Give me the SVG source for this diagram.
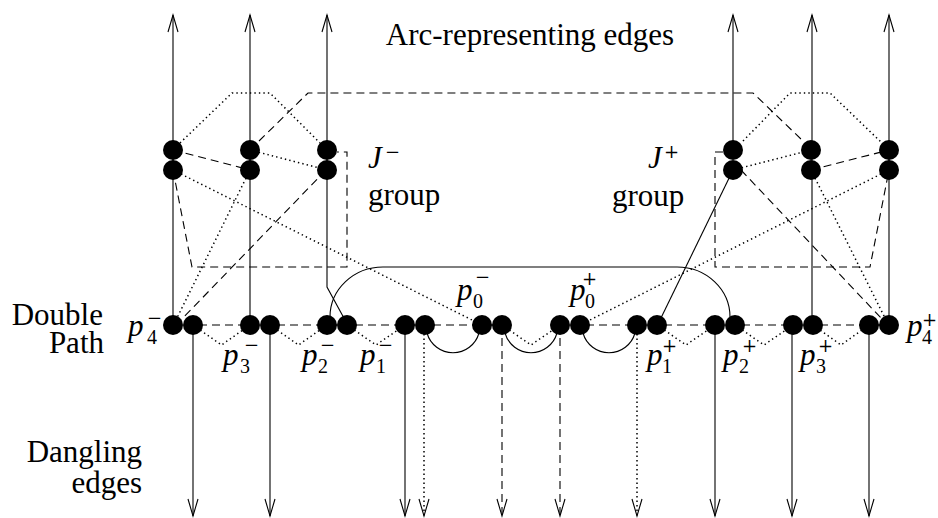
<svg xmlns="http://www.w3.org/2000/svg" width="938" height="518" viewBox="0 0 938 518">
<style>
 .s{fill:none;stroke:#000;stroke-width:1.1}
 .d{fill:none;stroke:#000;stroke-width:1.1;stroke-dasharray:8 5}
 .o{fill:none;stroke:#000;stroke-width:1.5;stroke-dasharray:1.4 3.1}
 .n circle{fill:#000;stroke:none}
 text{font-family:"Liberation Serif","Times New Roman",serif;fill:#000}
 .lbl{font-size:31px}
 .m{font-size:31px;font-style:italic}
 .sc{font-size:20px;font-style:normal}
 .sg{font-family:"DejaVu Serif",serif;font-size:18px;font-style:normal}
</style>
<defs>
 <marker id="ah" markerUnits="userSpaceOnUse" markerWidth="20" markerHeight="12" refX="17" refY="5" orient="auto" overflow="visible">
  <path d="M0,0 L17,5 L0,10" fill="none" stroke="#000" stroke-width="1.1"/>
 </marker>
</defs>
<g id="connectors">
 <!-- arc-representing edges (up) -->
 <path class="s" d="M173,325 V15" marker-end="url(#ah)"/>
 <path class="s" d="M250,325 V15" marker-end="url(#ah)"/>
 <path class="s" d="M345,320 L327,287 V15" marker-end="url(#ah)"/>
 <path class="s" d="M733,150 V15" marker-end="url(#ah)"/>
 <path class="s" d="M733,170 L660,320"/>
 <path class="s" d="M812,325 V15" marker-end="url(#ah)"/>
 <path class="s" d="M889,325 V15" marker-end="url(#ah)"/>
 <!-- dangling edges (down) -->
 <path class="s" d="M193,325 V516" marker-end="url(#ah)"/>
 <path class="s" d="M270,325 V516" marker-end="url(#ah)"/>
 <path class="s" d="M405,325 V516" marker-end="url(#ah)"/>
 <path class="o" d="M424,325 V516" marker-end="url(#ah)"/>
 <path class="d" d="M502,325 V516" marker-end="url(#ah)"/>
 <path class="d" d="M560,325 V516" marker-end="url(#ah)"/>
 <path class="o" d="M637,325 V516" marker-end="url(#ah)"/>
 <path class="s" d="M715,325 V516" marker-end="url(#ah)"/>
 <path class="s" d="M792,325 V516" marker-end="url(#ah)"/>
 <path class="s" d="M869,325 V516" marker-end="url(#ah)"/>
 <!-- top trapezoids -->
 <path class="o" d="M180,143 L232,93 L270,93 L320,143"/>
 <path class="d" d="M259,141 L308,93 L753,93 L803,141"/>
 <path class="o" d="M743,141 L790,93 L830,93 L882,143"/>
 <!-- J- group internals -->
 <path class="d" d="M173,150 L250,170"/>
 <path class="o" d="M250,150 L327,170"/>
 <path class="o" d="M173,170 L482,325"/>
 <path class="d" d="M173,170 L192,267 L347,267 L347,152 L337,152"/>
 <path class="o" d="M250,170 L175,322"/>
 <path class="d" d="M326,170 L180,321"/>
 <!-- J+ group internals -->
 <path class="o" d="M733,170 L811,150"/>
 <path class="d" d="M811,170 L889,150"/>
 <path class="d" d="M723,152 L715,152 L715,267 L870,267 L889,170"/>
 <path class="o" d="M889,170 L580,325"/>
 <path class="d" d="M741,170 L881,318"/>
 <path class="o" d="M811,170 L886,320"/>
 <!-- double path -->
 <path class="d" d="M173,325 H502 M560,325 H889"/>
 <path class="o" d="M193,325 L221.5,345 L250,325 M270,325 L298.5,345 L327,325 M347,325 L376,345 L405,325 M502,325 L531,345 L560,325 M657,325 L686,345 L715,325 M735,325 L764,345 L793,325 M813,325 L841,345 L869,325"/>
 <path class="s" d="M427,333 A27,27 0 0 0 479,333 M505,333 A27,27 0 0 0 557,333 M583,333 A27,27 0 0 0 635,333"/>
 <path class="s" d="M330,317 A53,50 0 0 1 383,267 H677 A53,50 0 0 1 730,317"/>
</g>
<g id="J-minus-1" class="n"><circle cx="173" cy="150" r="10"/><circle cx="173" cy="170" r="10"/></g>
<g id="J-minus-2" class="n"><circle cx="250" cy="150" r="10"/><circle cx="250" cy="170" r="10"/></g>
<g id="J-minus-3" class="n"><circle cx="327" cy="150" r="10"/><circle cx="327" cy="170" r="10"/></g>
<g id="J-plus-1" class="n"><circle cx="733" cy="150" r="10"/><circle cx="733" cy="170" r="10"/></g>
<g id="J-plus-2" class="n"><circle cx="811" cy="150" r="10"/><circle cx="811" cy="170" r="10"/></g>
<g id="J-plus-3" class="n"><circle cx="889" cy="150" r="10"/><circle cx="889" cy="170" r="10"/></g>
<g id="p4m" class="n"><circle cx="173" cy="325" r="10"/><circle cx="193" cy="325" r="10"/></g>
<g id="p3m" class="n"><circle cx="250" cy="325" r="10"/><circle cx="270" cy="325" r="10"/></g>
<g id="p2m" class="n"><circle cx="327" cy="325" r="10"/><circle cx="347" cy="325" r="10"/></g>
<g id="p1m" class="n"><circle cx="405" cy="325" r="10"/><circle cx="425" cy="325" r="10"/></g>
<g id="p0m" class="n"><circle cx="482" cy="325" r="10"/><circle cx="502" cy="325" r="10"/></g>
<g id="p0p" class="n"><circle cx="560" cy="325" r="10"/><circle cx="580" cy="325" r="10"/></g>
<g id="p1p" class="n"><circle cx="637" cy="325" r="10"/><circle cx="657" cy="325" r="10"/></g>
<g id="p2p" class="n"><circle cx="715" cy="325" r="10"/><circle cx="735" cy="325" r="10"/></g>
<g id="p3p" class="n"><circle cx="793" cy="325" r="10"/><circle cx="813" cy="325" r="10"/></g>
<g id="p4p" class="n"><circle cx="869" cy="325" r="10"/><circle cx="889" cy="325" r="10"/></g>
<g id="labels">
 <text class="lbl" x="530" y="45" text-anchor="middle">Arc-representing edges</text>
 <text class="lbl" x="103" y="325" text-anchor="end">Double</text>
 <text class="lbl" x="104" y="353" text-anchor="end">Path</text>
 <text class="lbl" x="142" y="462" text-anchor="end">Dangling</text>
 <text class="lbl" x="142" y="493" text-anchor="end">edges</text>
 <text class="m" x="368" y="168">J<tspan class="sg" x="385" y="157.5">−</tspan></text>
 <text class="lbl" x="368" y="205">group</text>
 <text class="m" x="648" y="168">J<tspan class="sg" x="664" y="158">+</tspan></text>
 <text class="lbl" x="612" y="206">group</text>
 <text class="m" x="128" y="336">p<tspan class="sc" x="147" y="344">4</tspan><tspan class="sg" x="147" y="323.5">−</tspan></text>
 <text class="m" x="223" y="365">p<tspan class="sc" x="240" y="373">3</tspan><tspan class="sg" x="244" y="351">−</tspan></text>
 <text class="m" x="302" y="365">p<tspan class="sc" x="318" y="373">2</tspan><tspan class="sg" x="320" y="351">−</tspan></text>
 <text class="m" x="360" y="365">p<tspan class="sc" x="376" y="373">1</tspan><tspan class="sg" x="378" y="351">−</tspan></text>
 <text class="m" x="457" y="300">p<tspan class="sc" x="473" y="308">0</tspan><tspan class="sg" x="475" y="282.5">−</tspan></text>
 <text class="m" x="570" y="300">p<tspan class="sc" x="585" y="308">0</tspan><tspan class="sg" x="582" y="285">+</tspan></text>
 <text class="m" x="647" y="365">p<tspan class="sc" x="662" y="373">1</tspan><tspan class="sg" x="662" y="352">+</tspan></text>
 <text class="m" x="723" y="365">p<tspan class="sc" x="739" y="373">2</tspan><tspan class="sg" x="742" y="352">+</tspan></text>
 <text class="m" x="800" y="365">p<tspan class="sc" x="816" y="373">3</tspan><tspan class="sg" x="818" y="352">+</tspan></text>
 <text class="m" x="907" y="336">p<tspan class="sc" x="922" y="344">4</tspan><tspan class="sg" x="922" y="325.5">+</tspan></text>
</g>
</svg>
